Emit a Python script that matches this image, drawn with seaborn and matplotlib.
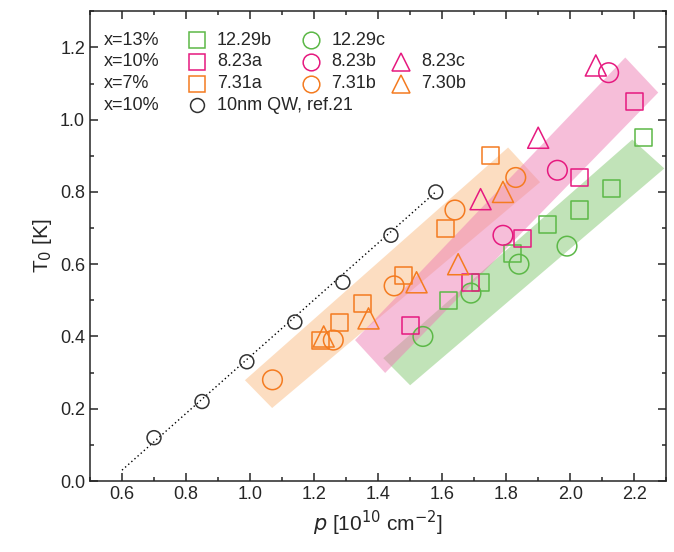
import numpy as np
import matplotlib
matplotlib.use("Agg")
import matplotlib.pyplot as plt
import seaborn as sns
from matplotlib.patches import Polygon
from matplotlib.ticker import MultipleLocator

# data
g_sq_x = [1.62, 1.72, 1.82, 1.93, 2.03, 2.13, 2.23]
g_sq_y = [0.50, 0.55, 0.63, 0.71, 0.75, 0.81, 0.95]
g_ci_x = [1.54, 1.69, 1.84, 1.99]
g_ci_y = [0.40, 0.52, 0.60, 0.65]
m_sq_x = [1.50, 1.69, 1.85, 2.03, 2.20]
m_sq_y = [0.43, 0.55, 0.67, 0.84, 1.05]
m_ci_x = [1.79, 1.96, 2.12]
m_ci_y = [0.68, 0.86, 1.13]
m_tr_x = [1.72, 1.90, 2.08]
m_tr_y = [0.78, 0.95, 1.15]
o_sq_x = [1.22, 1.28, 1.35, 1.48, 1.61, 1.75]
o_sq_y = [0.39, 0.44, 0.49, 0.57, 0.70, 0.90]
o_ci_x = [1.07, 1.26, 1.45, 1.64, 1.83]
o_ci_y = [0.28, 0.39, 0.54, 0.75, 0.84]
o_tr_x = [1.23, 1.37, 1.52, 1.65, 1.79]
o_tr_y = [0.40, 0.45, 0.55, 0.60, 0.80]
k_x = [0.70, 0.85, 0.99, 1.14, 1.29, 1.44, 1.58]
k_y = [0.12, 0.22, 0.33, 0.44, 0.55, 0.68, 0.80]
fit_x = [0.60, 1.58]
fit_y = [0.03, 0.80]

band_orange = [(0.984, 0.279), (1.069, 0.202), (1.906, 0.827), (1.806, 0.923)]
band_pink = [(1.328, 0.390), (1.422, 0.299), (2.275, 1.075), (2.172, 1.172)]
band_green = [(1.416, 0.340), (1.50, 0.265), (2.294, 0.865), (2.194, 0.945)]

GREEN = "#5cb847"
MAG = "#e6197f"
ORA = "#f47b20"

sns.set_style("ticks")
plt.rcParams["font.family"] = ["Liberation Sans", "DejaVu Sans"]
fig = plt.figure(figsize=(6.74, 5.52), dpi=100)
ax = fig.add_axes([0.1335, 0.1286, 0.855, 0.851])

ax.add_patch(Polygon(band_orange, closed=True, fc="#fbc28e", alpha=0.55, lw=0))
ax.add_patch(Polygon(band_green, closed=True, fc="#84c872", alpha=0.5, lw=0))
ax.add_patch(Polygon(band_pink, closed=True, fc="#ee7fb5", alpha=0.5, lw=0))

ax.plot(fit_x, fit_y, ls=(0, (1, 2)), color="k", lw=1)

kw = dict(facecolor="none", s=150, linewidth=1.1, zorder=3)
sns.scatterplot(x=k_x, y=k_y, marker="o", edgecolor="#333333", ax=ax, **{**kw, "s": 100})
sns.scatterplot(x=g_sq_x, y=g_sq_y, marker="s", edgecolor=GREEN, ax=ax, **kw)
sns.scatterplot(x=g_ci_x, y=g_ci_y, marker="o", edgecolor=GREEN, ax=ax, **{**kw, "s": 200})
sns.scatterplot(x=m_sq_x, y=m_sq_y, marker="s", edgecolor=MAG, ax=ax, **kw)
sns.scatterplot(x=m_ci_x, y=m_ci_y, marker="o", edgecolor=MAG, ax=ax, **{**kw, "s": 200})
sns.scatterplot(x=m_tr_x, y=m_tr_y, marker="^", edgecolor=MAG, ax=ax, **{**kw, "s": 230})
sns.scatterplot(x=o_sq_x, y=o_sq_y, marker="s", edgecolor=ORA, ax=ax, **kw)
sns.scatterplot(x=o_ci_x, y=o_ci_y, marker="o", edgecolor=ORA, ax=ax, **{**kw, "s": 200})
sns.scatterplot(x=o_tr_x, y=o_tr_y, marker="^", edgecolor=ORA, ax=ax, **{**kw, "s": 230})

# legend drawn by hand
rows = [
    ("x=13%", [("s", GREEN, "12.29b"), ("o", GREEN, "12.29c")]),
    ("x=10%", [("s", MAG, "8.23a"), ("o", MAG, "8.23b"), ("^", MAG, "8.23c")]),
    ("x=7%", [("s", ORA, "7.31a"), ("o", ORA, "7.31b"), ("^", ORA, "7.30b")]),
    ("x=10%", [("o", "#333333", "10nm QW, ref.21")]),
]
col_m = [0.185, 0.384, 0.54]
ys = [0.938, 0.892, 0.846, 0.800]
for (lab, items), yy in zip(rows, ys):
    ax.text(0.024, yy, lab, transform=ax.transAxes, va="center", fontsize=13)
    for (mk, c, t), xm in zip(items, col_m):
        ms = 12 if c != "#333333" else 10
        if mk == "^":
            ms = 13
        ax.plot([xm], [yy], marker=mk, ms=ms, mfc="none", mec=c, mew=1.1,
                transform=ax.transAxes, ls="none")
        ax.text(xm + 0.035, yy, t, transform=ax.transAxes, va="center", fontsize=13)

ax.set_xlim(0.5, 2.3)
ax.set_ylim(0.0, 1.3)
ax.yaxis.set_major_locator(MultipleLocator(0.2))
ax.yaxis.set_minor_locator(MultipleLocator(0.1))
ax.tick_params(which="both", direction="in", top=True, right=True, labelsize=13, width=1.1)
ax.tick_params(which="major", length=6)
ax.tick_params(which="minor", length=3)
ax.set_xticks([0.6, 0.8, 1.0, 1.2, 1.4, 1.6, 1.8, 2.0, 2.2])
ax.set_xticks(np.arange(0.5, 2.31, 0.1), minor=True)
for s in ax.spines.values():
    s.set_linewidth(1.1)
ax.set_xlabel(r"$p$ [10$^{10}$ cm$^{-2}$]", fontsize=15)
ax.set_ylabel(r"T$_0$ [K]", fontsize=15)
fig.savefig("out.png", dpi=100)
